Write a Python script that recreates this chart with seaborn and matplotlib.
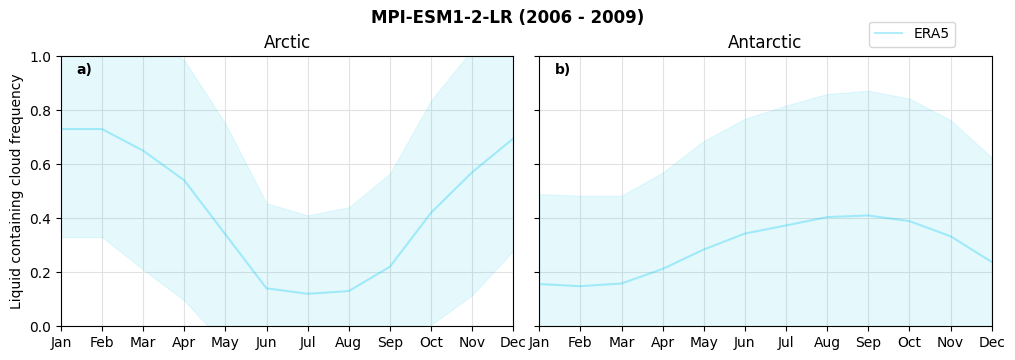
import numpy as np
import pandas as pd
import seaborn as sns
from matplotlib import pyplot as plt

# Monthly ERA5 liquid containing cloud frequency (mean and +/- spread)
months = ['Jan', 'Feb', 'Mar', 'Apr', 'May', 'Jun', 'Jul', 'Aug', 'Sep', 'Oct', 'Nov', 'Dec']
arctic_mean = [0.73, 0.73, 0.65, 0.54, 0.34, 0.14, 0.12, 0.13, 0.22, 0.42, 0.57, 0.695]
arctic_std = [0.40, 0.40, 0.44, 0.445, 0.41, 0.315, 0.29, 0.31, 0.345, 0.415, 0.455, 0.415]
antarctic_mean = [0.156, 0.148, 0.158, 0.212, 0.284, 0.343, 0.373, 0.404, 0.41, 0.389, 0.333, 0.238]
antarctic_std = [0.333, 0.335, 0.325, 0.357, 0.402, 0.425, 0.444, 0.456, 0.462, 0.454, 0.43, 0.387]

era5_color = '#00c8f0'

fig, axes = plt.subplots(1, 2, figsize=(10.15, 3.6), dpi=100, sharey=True)
fig.subplots_adjust(left=0.060, right=0.977, bottom=0.094, top=0.844, wspace=0.0575)

panels = [
    (axes[0], 'Arctic', 'a)', arctic_mean, arctic_std),
    (axes[1], 'Antarctic', 'b)', antarctic_mean, antarctic_std),
]

for ax, title, tag, mean, std in panels:
    df = pd.DataFrame({'month': np.arange(len(months)), 'freq': mean})
    mean_arr = np.array(mean)
    std_arr = np.array(std)
    ax.fill_between(df['month'], mean_arr - std_arr, mean_arr + std_arr,
                    color=era5_color, alpha=0.1, linewidth=0.8, zorder=1)
    sns.lineplot(data=df, x='month', y='freq', ax=ax, color=era5_color, alpha=0.3,
                 linewidth=1.5, label='ERA5' if tag == 'a)' else None, zorder=2)
    ax.set_xlim(0, len(months) - 1)
    ax.set_ylim(0, 1)
    ax.set_xticks(np.arange(len(months)))
    ax.set_xticklabels(months)
    ax.set_yticks([0, 0.2, 0.4, 0.6, 0.8, 1.0])
    ax.grid(True, color='#e2e2e2', linewidth=0.8)
    ax.set_axisbelow(True)
    ax.set_title(title, fontsize=12)
    ax.set_xlabel('')
    ax.set_ylabel('')
    ax.text(0.035, 0.948, tag, transform=ax.transAxes, fontweight='bold',
            fontsize=10, va='center', ha='left')
    if ax.get_legend() is not None:
        ax.get_legend().remove()

axes[0].set_ylabel('Liquid containing cloud frequency')
axes[1].tick_params(axis='y', labelleft=False)

handles, labels = axes[0].get_legend_handles_labels()
fig.legend(handles, labels, loc='upper right', bbox_to_anchor=(0.948, 0.959), fontsize=10)
fig.suptitle('MPI-ESM1-2-LR (2006 - 2009)', fontweight='bold', fontsize=12, y=0.975)

plt.savefig('out.png', dpi=100)
plt.close()
